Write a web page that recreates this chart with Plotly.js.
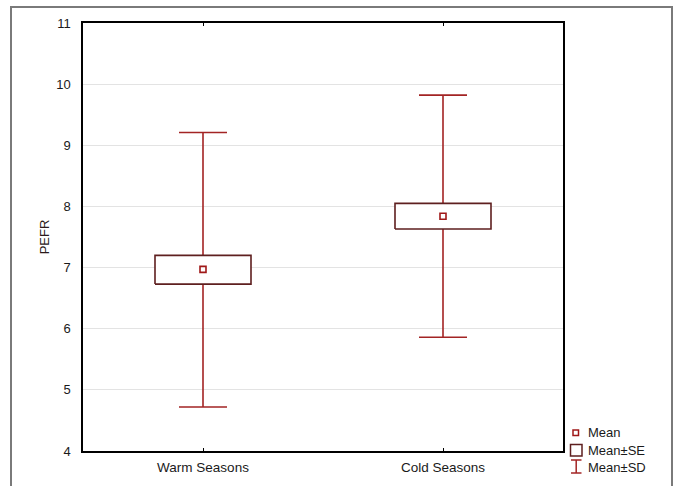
<!DOCTYPE html>
<html>
<head>
<meta charset="utf-8">
<script src="https://cdn.plot.ly/plotly-3.0.1.min.js"></script>
<style>html,body{margin:0;padding:0;background:#fff;}#chart{width:676px;height:486px;}</style>
</head>
<body>
<div id="chart"></div>
<script>
// ---- data ----
const categories = ["Warm Seasons", "Cold Seasons"];
const means  = [6.97, 7.84];
const seLow  = [6.73, 7.63];
const seHigh = [7.20, 8.05];
const sdLow  = [4.72, 5.86];
const sdHigh = [9.21, 9.82];
const yTicks = [4, 5, 6, 7, 8, 9, 10, 11];
const legendLabels = ["Mean", "Mean\u00b1SE", "Mean\u00b1SD"];

// ---- layout constants ----
const W = 676, H = 486;
const L = 83, R = 563, T = 23, B = 451;
const pw = R - L, ph = B - T;
const px = x => (x - L) / pw;
const py = y => (B - y) / ph;

const whiskerColor = "#a32424";
const boxColor = "#5e1f1f";
const meanColor = "#a01818";
const font = "Liberation Sans, Arial, sans-serif";
const xs = categories.map((c, i) => i);
const halfBox = 0.2;

const traces = [];
// whiskers (mean ± SD) with caps
traces.push({
  type: "scatter", mode: "markers", x: xs, y: means,
  marker: {size: 1, color: "rgba(0,0,0,0)"},
  error_y: {type: "data", symmetric: false,
    array: sdHigh.map((v, i) => v - means[i]),
    arrayminus: means.map((m, i) => m - sdLow[i]),
    width: 24, thickness: 1.6, color: whiskerColor},
  hoverinfo: "skip", showlegend: false
});
// boxes (mean ± SE)
xs.forEach((x, i) => {
  traces.push({
    type: "scatter", mode: "lines",
    x: [x - halfBox, x + halfBox, x + halfBox, x - halfBox, x - halfBox],
    y: [seLow[i], seLow[i], seHigh[i], seHigh[i], seLow[i]],
    fill: "toself", fillcolor: "#ffffff",
    line: {color: boxColor, width: 1.6},
    hoverinfo: "skip", showlegend: false
  });
});
// means
traces.push({
  type: "scatter", mode: "markers", x: xs, y: means,
  marker: {symbol: "square-open", size: 6, color: meanColor, line: {width: 1.6, color: meanColor}},
  showlegend: false
});

const shapes = [
  // outer frame
  {type: "rect", xref: "paper", yref: "paper", x0: px(11), x1: px(672), y0: py(492), y1: py(7),
   line: {color: "#7a7a7a", width: 2}, fillcolor: "rgba(0,0,0,0)", layer: "below"},
  // legend: mean symbol
  {type: "rect", xref: "paper", yref: "paper", x0: px(573), x1: px(578.5), y0: py(435.5), y1: py(430),
   line: {color: meanColor, width: 1.5}},
  // legend: SE box
  {type: "rect", xref: "paper", yref: "paper", x0: px(570.5), x1: px(582), y0: py(456), y1: py(444.5),
   line: {color: boxColor, width: 1.5}},
  // legend: SD I-beam
  {type: "line", xref: "paper", yref: "paper", x0: px(571), x1: px(581.5), y0: py(460), y1: py(460),
   line: {color: whiskerColor, width: 1.5}},
  {type: "line", xref: "paper", yref: "paper", x0: px(576.2), x1: px(576.2), y0: py(460), y1: py(473),
   line: {color: whiskerColor, width: 1.5}},
  {type: "line", xref: "paper", yref: "paper", x0: px(571), x1: px(581.5), y0: py(473), y1: py(473),
   line: {color: whiskerColor, width: 1.5}}
];

const legendY = [432.5, 450, 467];
const annotations = legendLabels.map((t, i) => ({
  xref: "paper", yref: "paper", x: px(585.5), y: py(legendY[i]),
  xanchor: "left", yanchor: "middle", showarrow: false, text: t,
  font: {family: font, size: 13, color: "#1a1a1a"}
}));

const layout = {
  width: W, height: H,
  margin: {l: L, r: W - R, t: T, b: H - B, pad: 0},
  paper_bgcolor: "#ffffff", plot_bgcolor: "#ffffff",
  showlegend: false,
  font: {family: font, size: 12, color: "#1a1a1a"},
  xaxis: {
    range: [-0.5, 1.5], tickvals: xs, ticktext: categories,
    ticks: "inside", ticklen: 3, tickcolor: "#000", tickwidth: 1,
    showline: true, linecolor: "#000", linewidth: 1.6, mirror: "ticks",
    showgrid: false, zeroline: false, fixedrange: true,
    tickfont: {family: font, size: 13.5, color: "#1a1a1a"}, ticklabelstandoff: 3
  },
  yaxis: {
    range: [4, 11], tickvals: yTicks, ticktext: yTicks.map(String),
    ticks: "outside", ticklen: 8, tickcolor: "rgba(0,0,0,0)",
    showline: true, linecolor: "#000", linewidth: 1.6, mirror: true,
    showgrid: true, gridcolor: "#e3e3e3", gridwidth: 1, zeroline: false, fixedrange: true,
    tickfont: {family: font, size: 13, color: "#1a1a1a"},
    title: {text: "PEFR", font: {family: font, size: 13, color: "#2a1a1a"}, standoff: 4}
  },
  shapes: shapes,
  annotations: annotations
};

Plotly.newPlot("chart", traces, layout, {staticPlot: true, displayModeBar: false});
</script>
</body>
</html>
